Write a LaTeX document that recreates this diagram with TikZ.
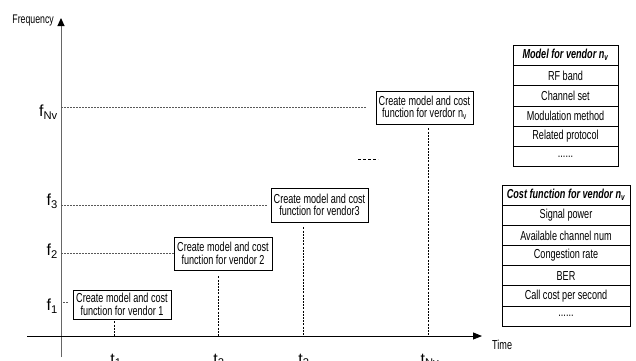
\documentclass[tikz,border=0pt]{standalone}
\usepackage{fontspec}
\setmainfont{Liberation Sans}[FakeStretch=0.7]
\newfontfamily\axfont{Liberation Sans}
\usetikzlibrary{arrows.meta}
\begin{document}
\begin{tikzpicture}[x=1pt,y=-1pt,
  boxtext/.style={draw=black, line width=0.8pt, inner sep=0pt, align=center, font=\fontsize{13}{12.5}\selectfont, fill=white},
  cell/.style={draw=black, line width=0.8pt, inner sep=0pt, anchor=center, font=\fontsize{13}{13}\selectfont},
  mcell/.style={cell, minimum width=105pt, minimum height=20.3pt},
  ccell/.style={cell, minimum width=128pt, minimum height=20.15pt},
  hdash/.style={draw=black!65, dash pattern=on 2pt off 1pt, line width=0.7pt},
  vdash/.style={draw=black, dash pattern=on 2pt off 1.2pt, line width=0.7pt},
  axlabel/.style={font=\axfont\fontsize{16}{16}\selectfont, inner sep=0pt},
]
\useasboundingbox (0,0) rectangle (636,360);
\fill[white] (0,0) rectangle (636,360);

% axes
\coordinate (ybot) at (61,357);
\coordinate (ytop) at (61,18);
\coordinate (xleft) at (27,336);
\coordinate (xright) at (482,336);
\draw[black!60, line width=1pt, -{Triangle[length=8pt,width=7pt,black]}] (ybot) -- (ytop);
\draw[black, line width=0.9pt, -{Triangle[length=9pt,width=7pt]}] (xleft) -- (xright);
\node[font=\fontsize{12.5}{12.5}\selectfont, anchor=east, inner sep=0pt] (flab) at (54,20) {Frequency};
\node[font=\fontsize{13}{13}\selectfont, anchor=west, inner sep=0pt] (tlab) at (492,345) {Time};

% frequency labels
\node[axlabel, anchor=east] (fNl) at (58,112) {f\textsubscript{Nv}};
\node[axlabel, anchor=east] (f3l) at (58,201) {f\textsubscript{3}};
\node[axlabel, anchor=east] (f2l) at (58,251) {f\textsubscript{2}};
\node[axlabel, anchor=east] (f1l) at (58,306) {f\textsubscript{1}};

\coordinate (yN) at (61,107);
\coordinate (y3) at (61,205);
\coordinate (y2) at (61,253);
\coordinate (y1) at (63,302);
\coordinate (y1e) at (68,302);

% time positions on axis
\coordinate (t1) at (114,336);
\coordinate (t2) at (218,336);
\coordinate (t3) at (303,336);
\coordinate (tN) at (428,336);

% boxes
\node[boxtext, minimum width=98pt, minimum height=29pt] (b1) at (122,304.5) {Create model and cost\\function for vendor 1};
\node[boxtext, minimum width=98pt, minimum height=33pt] (b2) at (223,253.5) {Create model and cost\\function for vendor 2};
\node[boxtext, minimum width=97pt, minimum height=34pt] (b3) at (319.5,205) {Create model and cost\\function for vendor3};
\node[boxtext, minimum width=97pt, minimum height=33pt] (bN) at (424.5,107.5) {Create model and cost\\function for verdor n\textsubscript{v}};

% horizontal dashed lines
\draw[hdash, shorten >=9pt] (yN) -- (bN.west |- yN);
\draw[hdash, shorten >=3pt] (y3) -- (b3.west |- y3);
\draw[hdash] (y2) -- (b2.west |- y2);
\draw[hdash] (y1) -- (y1e);

% vertical dashed lines
\draw[vdash, shorten <=2pt] (b1.south -| t1) -- (t1);
\draw[vdash, shorten <=6pt] (b2.south -| t2) -- (t2);
\draw[vdash, shorten <=5pt] (b3.south -| t3) -- (t3);
\draw[vdash, shorten <=4pt] (bN.south -| tN) -- (tN);

% time labels
\node[axlabel, anchor=base] (t1l) at (116,364) {t\textsubscript{1}};
\node[axlabel, anchor=base] (t2l) at (219,364) {t\textsubscript{2}};
\node[axlabel, anchor=base] (t3l) at (304,364) {t\textsubscript{3}};
\node[axlabel, anchor=base] (tNl) at (430,364) {t\textsubscript{Nv}};

% continuation mark
\coordinate (d1) at (358,159);
\coordinate (d2) at (378,159);
\draw[black, line width=1pt, dash pattern=on 3pt off 2pt] (d1) -- (d2);

% model table
\node[mcell] (m0) at (565.5,55.15) {\bfseries\itshape Model for vendor n\textsubscript{v}};
\foreach \t [count=\i] in {RF band, Channel set, Modulation method, Related protocol}
  \node[mcell] (m\i) at (565.5,55.15+20.3*\i) {\t};
\node[mcell] (m5) at (565.5,55.15+20.3*5) {{.}{.}{.}{.}{.}{.}};

% cost table
\node[ccell] (c0) at (566,195.1) {\bfseries\itshape Cost function for vendor n\textsubscript{v}};
\foreach \t [count=\i] in {Signal power, Available channel num, Congestion rate, BER, Call cost per second}
  \node[ccell] (c\i) at (566,195.1+20.15*\i) {\t};
\node[ccell] (c6) at (566,195.1+20.15*6) {{.}{.}{.}{.}{.}{.}};
\end{tikzpicture}
\end{document}
